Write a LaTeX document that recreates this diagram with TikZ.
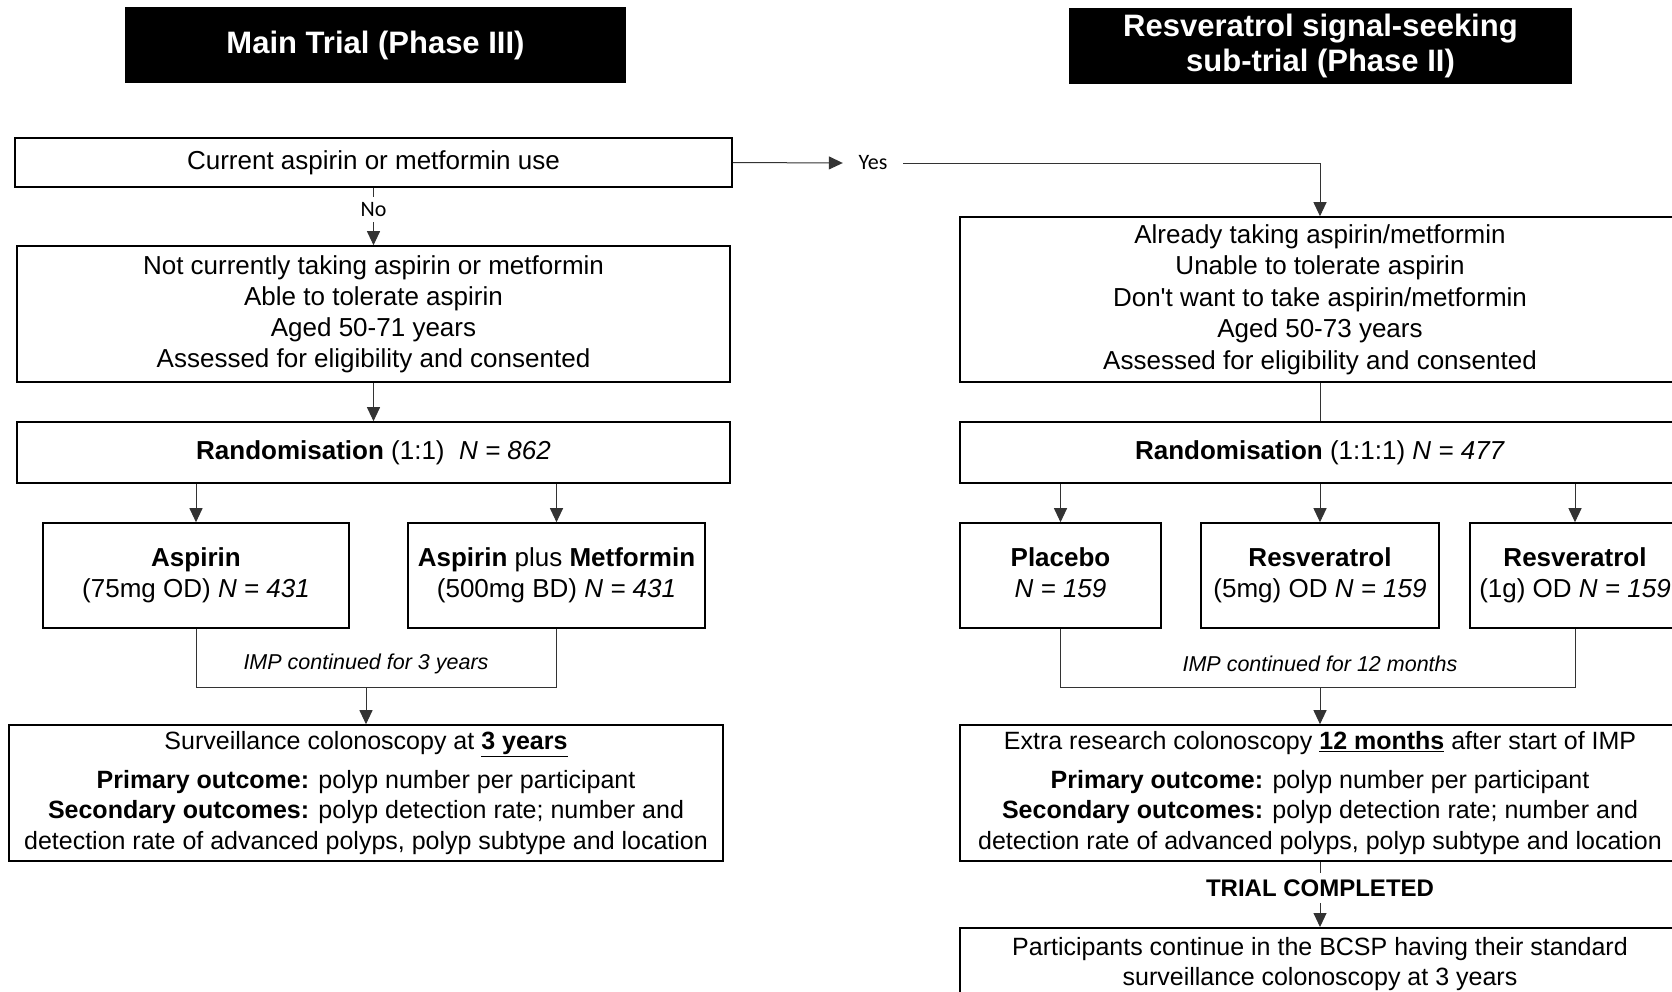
\documentclass[tikz,border=0pt]{standalone}
\usepackage{fontspec}
\setmainfont{Liberation Sans}
\newfontfamily\carl{Carlito}
\usetikzlibrary{arrows.meta}
\begin{document}
\begin{tikzpicture}[x=1pt,y=-1pt,
 box/.style={draw, line width=1.6pt, inner sep=0pt, align=center, font=\fontsize{26}{31}\selectfont},
 outbox/.style={box, font=\fontsize{25}{30.5}\selectfont},
 ttl/.style={fill=black, text=white, inner sep=0pt, align=center, font=\fontsize{31}{35}\selectfont\bfseries},
 conn/.style={line width=1pt, draw=black!80},
 arr/.style={conn, -{Triangle[length=14pt,width=13pt]}},
 lbl/.style={font=\fontsize{21.5}{25}\selectfont\itshape, inner sep=0pt},
 yn/.style={font=\carl\fontsize{22}{26}\selectfont, inner sep=0pt},
 done/.style={font=\fontsize{24}{28}\selectfont\bfseries, inner sep=0pt}]
\useasboundingbox (0,0) rectangle (1672,991);
\clip (0,0) rectangle (1672,991);
% titles
\node[ttl, minimum width=501pt, minimum height=75.5pt] (t1) at (375.5,45) {Main Trial (Phase III)};
\node[ttl, minimum width=503pt, minimum height=75.5pt] (t2) at (1320.5,46) {Resveratrol signal-seeking\\sub-trial (Phase II)};
% left column
\node[box, minimum width=717pt, minimum height=49pt] (cur) at (373.5,162.5) {Current aspirin or metformin use};
\node[yn, minimum height=25pt] (no) at (373.5,209.5) {No};
\node[box, minimum width=713pt, minimum height=136pt] (notcur) at (373.5,314) {Not currently taking aspirin or metformin\\Able to tolerate aspirin\\Aged 50-71 years\\Assessed for eligibility and consented};
\node[box, minimum width=713pt, minimum height=61pt] (rand1) at (373.5,452.5) {\textbf{Randomisation} (1:1)\ \ \textit{N = 862}};
\node[box, minimum width=306pt, minimum height=105pt] (asp) at (196,575.5) {\textbf{Aspirin}\\(75mg OD) \textit{N = 431}};
\node[box, minimum width=297pt, minimum height=105pt] (aspmet) at (556.5,575.5) {\textbf{Aspirin} plus \textbf{Metformin}\\(500mg BD) \textit{N = 431}};
\coordinate (j1) at (366,687);
\node[lbl] (imp1) at (366,664) {IMP continued for 3 years};
\node[outbox, minimum width=714pt, minimum height=136pt] (surv) at (366,793) {Surveillance colonoscopy at \underline{\textbf{3 years}}\\[8pt]\textbf{Primary outcome:} polyp number per participant\\\textbf{Secondary outcomes:} polyp detection rate; number and\\detection rate of advanced polyps, polyp subtype and location};
% right column
\node[yn, minimum width=60pt, minimum height=25pt] (yes) at (873,163) {Yes};
\node[box, minimum width=720pt, minimum height=165pt, font=\fontsize{26}{31.5}\selectfont] (already) at (1320,299.5) {Already taking aspirin/metformin\\Unable to tolerate aspirin\\Don\textquotesingle t want to take aspirin/metformin\\Aged 50-73 years\\Assessed for eligibility and consented};
\node[box, minimum width=720pt, minimum height=61pt] (rand2) at (1320,452.5) {\textbf{Randomisation} (1:1:1) \textit{N = 477}};
\node[box, minimum width=201pt, minimum height=105pt] (plac) at (1060.5,575.5) {\textbf{Placebo}\\\textit{N = 159}\vphantom{()}};
\node[box, minimum width=238pt, minimum height=105pt] (res5) at (1320,575.5) {\textbf{Resveratrol}\\(5mg) OD \textit{N = 159}};
\node[box, minimum width=210pt, minimum height=105pt] (res1) at (1575,575.5) {\textbf{Resveratrol}\\(1g) OD \textit{N = 159}};
\coordinate (j2) at (1320,687);
\node[lbl] (imp2) at (1320,664) {IMP continued for 12 months};
\node[outbox, minimum width=720pt, minimum height=136pt] (extra) at (1320,793) {Extra research colonoscopy \underline{\textbf{12 months}} after start of IMP\\[8pt]\textbf{Primary outcome:} polyp number per participant\\\textbf{Secondary outcomes:} polyp detection rate; number and\\detection rate of advanced polyps, polyp subtype and location};
\node[done, minimum height=30pt] (fin) at (1320,888) {TRIAL COMPLETED};
\node[outbox, minimum width=720pt, anchor=north, inner ysep=9.5pt] (part) at (1320,927) {Participants continue in the BCSP having their standard\\surveillance colonoscopy at 3 years};
% connectors
\draw[arr] (cur.east) -- (yes.west);
\draw[arr] (yes.east) -| (already.north);
\draw[conn] (cur.south) -- (no.north);
\draw[arr] (no.south) -- (notcur.north);
\draw[arr] (notcur.south) -- (rand1.north);
\draw[arr] (rand1.south -| asp.north) -- (asp.north);
\draw[arr] (rand1.south -| aspmet.north) -- (aspmet.north);
\draw[conn] (asp.south) |- (j1) -| (aspmet.south);
\draw[arr] (j1) -- (surv.north);
\draw[conn] (already.south) -- (rand2.north);
\draw[arr] (rand2.south -| plac.north) -- (plac.north);
\draw[arr] (rand2.south -| res5.north) -- (res5.north);
\draw[arr] (rand2.south -| res1.north) -- (res1.north);
\draw[conn] (plac.south) |- (j2) -| (res1.south);
\draw[arr] (j2) -- (extra.north);
\draw[conn] (extra.south) -- (fin.north);
\draw[arr] (fin.south) -- (part.north);
\end{tikzpicture}
\end{document}
